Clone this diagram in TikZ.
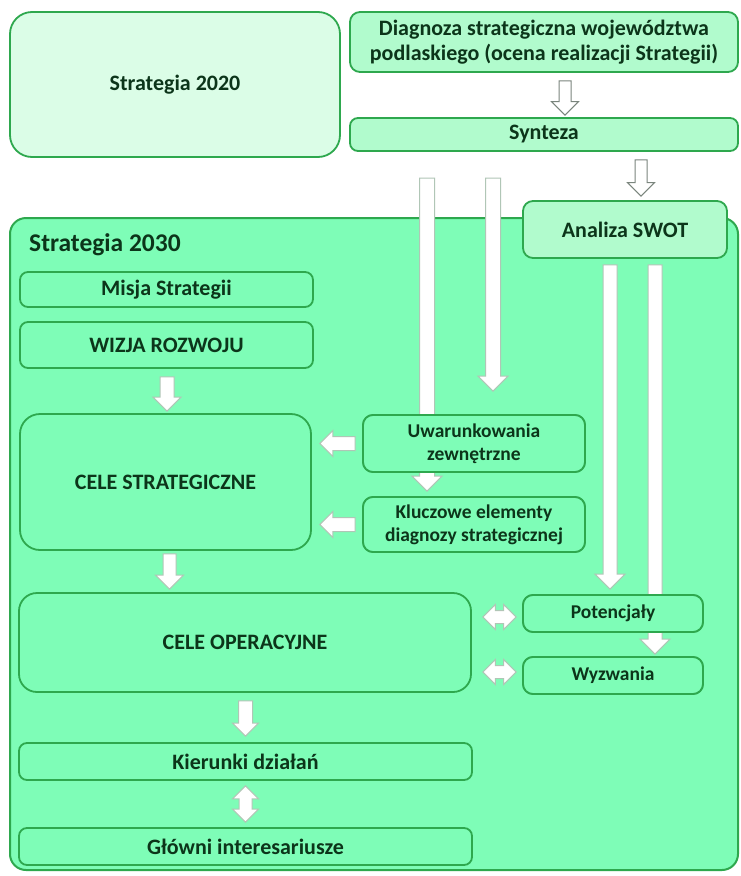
\documentclass[tikz,border=0pt]{standalone}
\usepackage{fontspec}
\setmainfont{Carlito}
\usetikzlibrary{calc}
\definecolor{bord}{HTML}{2EA84E}
\definecolor{txt}{HTML}{0C351A}
\definecolor{pale}{HTML}{DBFDE7}
\definecolor{midg}{HTML}{B1FBCD}
\definecolor{mint}{HTML}{7EFDB7}
\definecolor{arrline}{HTML}{B0C6B6}
\definecolor{arrdark}{HTML}{7A857D}
% down arrow: style, top, tip, shaft half, head half
\newcommand\dnarrow[5]{%
\draw[#1] let \p1=#2, \p2=#3 in (\x1-#4,\y1) -- (\x1+#4,\y1) -- (\x1+#4,\y2+#5) -- (\x1+#5,\y2+#5) -- (\x1,\y2) -- (\x1-#5,\y2+#5) -- (\x1-#4,\y2+#5) -- cycle;}
% left arrow: style, tail (right), tip (left), shaft half, head half
\newcommand\lfarrow[5]{%
\draw[#1] let \p1=#2, \p2=#3 in (\x1,\y1-#4) -- (\x1,\y1+#4) -- (\x2+#5,\y1+#4) -- (\x2+#5,\y1+#5) -- (\x2,\y1) -- (\x2+#5,\y1-#5) -- (\x2+#5,\y1-#4) -- cycle;}
% horizontal double arrow: style, left tip, right tip, shaft half, head half
\newcommand\hdarrow[5]{%
\draw[#1] let \p1=#2, \p2=#3 in (\x1,\y1) -- (\x1+#5,\y1+#5) -- (\x1+#5,\y1+#4) -- (\x2-#5,\y1+#4) -- (\x2-#5,\y1+#5) -- (\x2,\y1) -- (\x2-#5,\y1-#5) -- (\x2-#5,\y1-#4) -- (\x1+#5,\y1-#4) -- (\x1+#5,\y1-#5) -- cycle;}
% vertical double arrow: style, top tip, bottom tip, shaft half, head half
\newcommand\vdarrow[5]{%
\draw[#1] let \p1=#2, \p2=#3 in (\x1,\y1) -- (\x1+#5,\y1-#5) -- (\x1+#4,\y1-#5) -- (\x1+#4,\y2+#5) -- (\x1+#5,\y2+#5) -- (\x1,\y2) -- (\x1-#5,\y2+#5) -- (\x1-#4,\y2+#5) -- (\x1-#4,\y1-#5) -- (\x1-#5,\y1-#5) -- cycle;}
\tikzset{
  box/.style={draw=bord, line width=1.8pt, fill=mint, text=txt, align=center, inner sep=0pt,
    rounded corners=8pt, font=\fontsize{22}{25}\selectfont\bfseries},
  smallbox/.style={box, font=\fontsize{19.5}{23}\selectfont\bfseries, rounded corners=10pt},
  arrdk/.style={draw=arrdark, fill=white, line width=1pt, line join=miter},
  arrlt/.style={draw=arrline, fill=white, line width=1pt, line join=miter},
}
\begin{document}
\begin{tikzpicture}[x=1pt,y=-1pt]
\useasboundingbox (0,0) rectangle (741,876);
\fill[white] (0,0) rectangle (741,876);
% top part
\node[box, fill=pale, rounded corners=22pt, minimum width=330pt, minimum height=145pt] (s2020) at (175,84.5) {Strategia 2020};
\node[box, fill=midg, rounded corners=10pt, minimum width=388pt, minimum height=60pt] (diag) at (544,42) {Diagnoza strategiczna województwa\\podlaskiego (ocena realizacji Strategii)};
\node[box, fill=midg, minimum width=388pt, minimum height=33pt] (synt) at (544,134.5) {Synteza};
\dnarrow{arrdk}{($(diag.south)+(21,8)$)}{($(synt.north)+(21,-2)$)}{6pt}{13.5pt}
% container
\node[box, rounded corners=16pt, minimum width=728pt, minimum height=652pt, line width=2pt] (s2030) at (374,544) {};
\node[text=txt, font=\fontsize{25.5}{30}\selectfont\bfseries, anchor=west, inner sep=0pt] (lbl) at (29,245) {Strategia 2030};
\node[box, fill=midg, rounded corners=10pt, minimum width=204pt, minimum height=57pt] (swot) at (625,229.5) {Analiza SWOT};
\dnarrow{arrdk}{($(synt.south)+(97,8)$)}{($(swot.north)+(16,-4)$)}{6pt}{13.5pt}
\coordinate (lLs) at (427,178);
\coordinate (lRs) at (493,178);
% inner boxes that arrows pass behind
\node[smallbox, minimum width=222pt, minimum height=57pt] (uwar0) at (474,443.5) {};
\node[smallbox, minimum width=222pt, minimum height=55pt] (kluc0) at (474,524.5) {};
\node[smallbox, minimum width=180pt, minimum height=37pt] (pot0) at (613,613.5) {};
\node[smallbox, minimum width=180pt, minimum height=37pt] (wyz0) at (613,675.5) {};
% long arrows
\dnarrow{arrlt}{(lLs)}{($(kluc0.north)+(-47,-5)$)}{7.5pt}{15pt}
\dnarrow{arrlt}{(lRs)}{($(uwar0.north)+(19,-23)$)}{7.5pt}{15pt}
\dnarrow{arrlt}{($(swot.south)+(-15,6)$)}{($(pot0.north)+(-3,-5)$)}{7pt}{15pt}
\dnarrow{arrlt}{($(swot.south)+(30,6)$)}{($(wyz0.north)+(42,-2)$)}{7pt}{15pt}
% inner boxes
\node[smallbox, minimum width=222pt, minimum height=57pt] (uwar) at (474,443.5) {Uwarunkowania\\zewnętrzne};
\node[smallbox, minimum width=180pt, minimum height=37pt] (pot) at (613,613.5) {Potencjały};
\node[smallbox, minimum width=180pt, minimum height=37pt] (wyz) at (613,675.5) {Wyzwania};
\node[smallbox, minimum width=222pt, minimum height=55pt] (kluc) at (474,524.5) {Kluczowe elementy\\diagnozy strategicznej};
\node[box, minimum width=293pt, minimum height=35pt] (misja) at (166.5,289.5) {Misja Strategii};
\node[box, minimum width=293pt, minimum height=46pt] (wizja) at (166.5,345) {WIZJA ROZWOJU};
\node[box, rounded corners=20pt, minimum width=291pt, minimum height=136pt] (cstrat) at (165.5,482) {CELE STRATEGICZNE};
\node[box, rounded corners=18pt, minimum width=452pt, minimum height=99pt] (cop) at (245,642.5) {CELE OPERACYJNE};
\node[box, minimum width=453pt, minimum height=37pt] (kier) at (245.5,761.5) {Kierunki działań};
\node[box, minimum width=453pt, minimum height=37pt] (glow) at (245.5,846.5) {Główni interesariusze};
% inner arrows
\dnarrow{arrlt}{($(wizja.south)+(0.5,8)$)}{($(cstrat.north)+(1.5,-2)$)}{7pt}{14pt}
\lfarrow{arrlt}{($(uwar.west)+(-7,0)$)}{($(cstrat.east |- uwar.west)+(8,0)$)}{7pt}{13pt}
\lfarrow{arrlt}{($(kluc.west)+(-7,0)$)}{($(cstrat.east |- kluc.west)+(8,0)$)}{7pt}{13pt}
\dnarrow{arrlt}{($(cstrat.south)+(4,3)$)}{($(cop.north)+(-75.5,-3)$)}{6.5pt}{14pt}
\hdarrow{arrlt}{($(cop.east |- pot.west)+(11,3.5)$)}{($(pot.west)+(-6,3.5)$)}{6.5pt}{12.5pt}
\hdarrow{arrlt}{($(cop.east |- wyz.west)+(11,-3.5)$)}{($(wyz.west)+(-6,-3.5)$)}{6.5pt}{12.5pt}
\dnarrow{arrlt}{($(cop.south)+(0.5,8)$)}{($(kier.north)+(0,-6)$)}{7pt}{13pt}
\vdarrow{arrlt}{($(kier.south)+(0,5)$)}{($(glow.north)+(0,-5)$)}{6.5pt}{13pt}
\end{tikzpicture}
\end{document}
